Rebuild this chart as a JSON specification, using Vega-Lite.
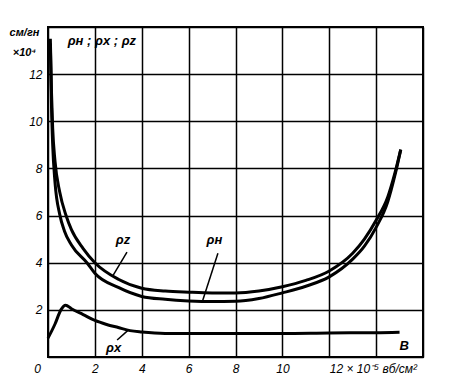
{
  "$schema": "https://vega.github.io/schema/vega-lite/v6.json",
  "width": 375,
  "height": 330,
  "autosize": {"type": "none"},
  "padding": {"left": 48, "top": 27, "right": 27, "bottom": 23},
  "background": "white",
  "config": {"view": {"stroke": "black", "strokeWidth": 2}, "font": "Liberation Sans"},
  "datasets": {
    "curves": [
      {"series": "ρz", "b": 0.1, "rho": 13.5}, {"series": "ρz", "b": 0.15, "rho": 11.2}, {"series": "ρz", "b": 0.2, "rho": 9.7}, {"series": "ρz", "b": 0.3, "rho": 8.3}, {"series": "ρz", "b": 0.5, "rho": 7.0}, {"series": "ρz", "b": 0.77, "rho": 6.0}, {"series": "ρz", "b": 1.0, "rho": 5.4}, {"series": "ρz", "b": 1.5, "rho": 4.6}, {"series": "ρz", "b": 2, "rho": 4.0}, {"series": "ρz", "b": 3, "rho": 3.3}, {"series": "ρz", "b": 4, "rho": 2.92}, {"series": "ρz", "b": 5, "rho": 2.8}, {"series": "ρz", "b": 6, "rho": 2.75}, {"series": "ρz", "b": 7, "rho": 2.72}, {"series": "ρz", "b": 8, "rho": 2.72}, {"series": "ρz", "b": 9, "rho": 2.8}, {"series": "ρz", "b": 10, "rho": 2.98}, {"series": "ρz", "b": 11, "rho": 3.25}, {"series": "ρz", "b": 12, "rho": 3.65}, {"series": "ρz", "b": 13, "rho": 4.4}, {"series": "ρz", "b": 13.5, "rho": 5.0}, {"series": "ρz", "b": 14, "rho": 5.8}, {"series": "ρz", "b": 14.5, "rho": 6.8}, {"series": "ρz", "b": 14.8, "rho": 7.8}, {"series": "ρz", "b": 15.05, "rho": 8.8},
      {"series": "ρн", "b": 0.1, "rho": 13.3}, {"series": "ρн", "b": 0.15, "rho": 10.6}, {"series": "ρн", "b": 0.2, "rho": 9.0}, {"series": "ρн", "b": 0.3, "rho": 7.4}, {"series": "ρн", "b": 0.5, "rho": 6.05}, {"series": "ρн", "b": 0.7, "rho": 5.35}, {"series": "ρн", "b": 1.0, "rho": 4.75}, {"series": "ρн", "b": 1.66, "rho": 4.0}, {"series": "ρн", "b": 2, "rho": 3.55}, {"series": "ρн", "b": 3, "rho": 2.95}, {"series": "ρн", "b": 4, "rho": 2.57}, {"series": "ρн", "b": 5, "rho": 2.45}, {"series": "ρн", "b": 6, "rho": 2.38}, {"series": "ρн", "b": 7, "rho": 2.35}, {"series": "ρн", "b": 8, "rho": 2.36}, {"series": "ρн", "b": 9, "rho": 2.48}, {"series": "ρн", "b": 10, "rho": 2.72}, {"series": "ρн", "b": 11, "rho": 3.0}, {"series": "ρн", "b": 12, "rho": 3.4}, {"series": "ρн", "b": 13, "rho": 4.15}, {"series": "ρн", "b": 13.5, "rho": 4.7}, {"series": "ρн", "b": 14, "rho": 5.5}, {"series": "ρн", "b": 14.5, "rho": 6.6}, {"series": "ρн", "b": 14.8, "rho": 7.7}, {"series": "ρн", "b": 15.05, "rho": 8.8},
      {"series": "ρх", "b": 0, "rho": 0.8}, {"series": "ρх", "b": 0.3, "rho": 1.4}, {"series": "ρх", "b": 0.55, "rho": 2.0}, {"series": "ρх", "b": 0.75, "rho": 2.2}, {"series": "ρх", "b": 1.0, "rho": 2.05}, {"series": "ρх", "b": 1.5, "rho": 1.8}, {"series": "ρх", "b": 2, "rho": 1.55}, {"series": "ρх", "b": 2.5, "rho": 1.38}, {"series": "ρх", "b": 3, "rho": 1.25}, {"series": "ρх", "b": 3.5, "rho": 1.12}, {"series": "ρх", "b": 4, "rho": 1.06}, {"series": "ρх", "b": 5, "rho": 1.0}, {"series": "ρх", "b": 6, "rho": 1.0}, {"series": "ρх", "b": 8, "rho": 1.0}, {"series": "ρх", "b": 10, "rho": 1.0}, {"series": "ρх", "b": 12, "rho": 1.02}, {"series": "ρх", "b": 14, "rho": 1.03}, {"series": "ρх", "b": 15, "rho": 1.05}
    ],
    "labels": [
      {"text": "ρz", "b": 3.2, "rho": 4.95},
      {"text": "ρн", "b": 7.1, "rho": 4.95},
      {"text": "ρх", "b": 2.8, "rho": 0.4},
      {"text": "В", "b": 15.2, "rho": 0.45},
      {"text": "ρн ; ρх ; ρz", "b": 2.3, "rho": 13.4}
    ],
    "pointers": [
      {"b": 3.37, "rho": 4.45, "b2": 2.77, "rho2": 3.45},
      {"b": 7.25, "rho": 4.4, "b2": 6.6, "rho2": 2.4},
      {"b": 3.4, "rho": 1.12, "b2": 2.95, "rho2": 0.72}
    ]
  },
  "layer": [
    {
      "data": {"name": "curves"},
      "mark": {"type": "line", "interpolate": "monotone", "strokeWidth": 3, "color": "black"},
      "encoding": {
        "x": {
          "field": "b", "type": "quantitative",
          "scale": {"domain": [0, 16], "nice": false},
          "axis": {
            "title": null, "values": [0, 2, 4, 6, 8, 10, 12, 14, 16],
            "grid": true, "gridColor": "black", "gridWidth": 1.5, "gridOpacity": 1,
            "domain": false, "ticks": false,
            "labelExpr": "datum.value == 0 ? '0' : datum.value == 12 ? '12 × 10⁻⁵ вб/см²' : datum.value <= 10 ? datum.label : ''",
            "labelAlign": {"condition": {"test": "datum.value == 12", "value": "left"}, "value": "center"},
            "labelOffset": {"condition": {"test": "datum.value == 0", "value": -11}, "value": 0},
            "labelFont": "Liberation Sans", "labelFontStyle": "italic", "labelFontSize": 12,
            "labelColor": "black", "labelPadding": 6, "labelFlush": false, "labelOverlap": false
          }
        },
        "y": {
          "field": "rho", "type": "quantitative",
          "scale": {"domain": [0, 14], "nice": false},
          "axis": {
            "title": ["см/гн", "×10⁴"], "titleAngle": 0, "titleAlign": "center", "titleBaseline": "top",
            "titleX": -24, "titleY": -1, "titleFont": "Liberation Sans", "titleFontStyle": "italic",
            "titleFontWeight": "bold", "titleFontSize": 11, "titleLineHeight": 20, "titleColor": "black",
            "values": [0, 2, 4, 6, 8, 10, 12, 14],
            "grid": true, "gridColor": "black", "gridWidth": 1.5, "gridOpacity": 1,
            "domain": false, "ticks": false,
            "labelExpr": "datum.value == 0 || datum.value == 14 ? '' : datum.label",
            "labelFont": "Liberation Sans", "labelFontStyle": "italic", "labelFontSize": 12,
            "labelColor": "black", "labelPadding": 6
          }
        },
        "detail": {"field": "series"}
      }
    },
    {
      "data": {"name": "pointers"},
      "mark": {"type": "rule", "color": "black", "strokeWidth": 1.5},
      "encoding": {
        "x": {"field": "b", "type": "quantitative"},
        "y": {"field": "rho", "type": "quantitative"},
        "x2": {"field": "b2"},
        "y2": {"field": "rho2"}
      }
    },
    {
      "data": {"name": "labels"},
      "mark": {"type": "text", "font": "Liberation Sans", "fontStyle": "italic", "fontWeight": "bold", "fontSize": 13, "color": "black"},
      "encoding": {
        "x": {"field": "b", "type": "quantitative"},
        "y": {"field": "rho", "type": "quantitative"},
        "text": {"field": "text"}
      }
    }
  ]
}
